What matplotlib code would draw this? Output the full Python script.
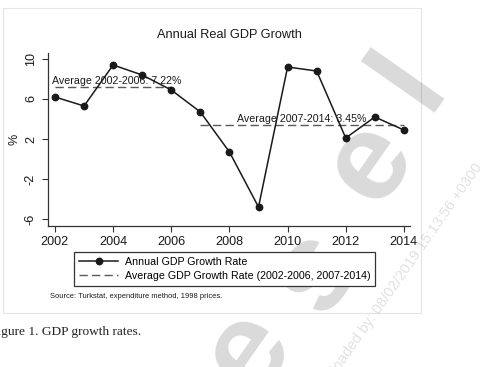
import matplotlib
matplotlib.use("Agg")
import matplotlib.pyplot as plt
from matplotlib.patches import Rectangle

plt.rcParams['font.family'] = ['Liberation Sans', 'DejaVu Sans']

# Annual real GDP growth (%), Turkstat, 1998 prices
years = [2002, 2003, 2004, 2005, 2006, 2007, 2008, 2009, 2010, 2011, 2012, 2013, 2014]
growth = [6.2, 5.3, 9.4, 8.4, 6.9, 4.7, 0.7, -4.8, 9.2, 8.8, 2.1, 4.2, 2.9]

avg_periods = [(2002, 2006), (2007, 2014)]
avg_values = [7.22, 3.45]
avg_labels = ["Average 2002-2006: 7.22%", "Average 2007-2014: 3.45%"]
avg_label_x = [2001.9, 2008.25]

x_ticks = [2002, 2004, 2006, 2008, 2010, 2012, 2014]
y_ticks = [-6, -2, 2, 6, 10]

W, H = 487, 367
fig = plt.figure(figsize=(W / 100, H / 100), dpi=100)
fig.patch.set_facecolor('white')

def px(x, y):
    return x / W, 1 - y / H

# outer graph frame
fig.patches.append(Rectangle(px(3, 313), 418 / W, 305 / H, transform=fig.transFigure,
                             fill=False, edgecolor='#e4e4e4', linewidth=0.8))

ax = fig.add_axes([48 / W, 1 - 226 / H, (410 - 48) / W, (226 - 53) / H])
ax.plot(years, growth, color='#1a1a1a', linewidth=1.1, marker='o', markersize=4.6,
        label='Annual GDP Growth Rate', zorder=3)

for i, ((x0, x1), v) in enumerate(zip(avg_periods, avg_values)):
    ax.plot([x0, x1], [v, v], color='#5a5a5a', linewidth=1.0, linestyle=(0, (6, 3)),
            label='Average GDP Growth Rate (2002-2006, 2007-2014)' if i == 0 else None, zorder=2)
    ax.text(avg_label_x[i], v + 0.3, avg_labels[i], fontsize=7.7, color='#1a1a1a',
            ha='left', va='baseline')

ax.set_xlim(2001.76, 2014.21)
ax.set_ylim(-6.7, 10.6)
ax.set_xticks(x_ticks)
ax.set_yticks(y_ticks)
ax.set_yticklabels([str(t) for t in y_ticks], rotation=90, va='center')
ax.tick_params(axis='both', direction='out', length=4, width=0.8, color='#333333',
               labelsize=9.1, labelcolor='#1a1a1a', pad=3)
ax.tick_params(axis='y', pad=4)
for s in ['top', 'right']:
    ax.spines[s].set_visible(False)
for s in ['left', 'bottom']:
    ax.spines[s].set_color('#333333')
    ax.spines[s].set_linewidth(0.9)
ax.set_ylabel('%', fontsize=9.1, labelpad=3, color='#1a1a1a')

fig.text(229 / W, 1 - 35 / H, 'Annual Real GDP Growth', fontsize=9.2, ha='center',
         va='center', color='#1a1a1a')

leg = fig.legend(loc='upper left', bbox_to_anchor=px(74, 252), fontsize=7.7,
                 frameon=True, fancybox=False, edgecolor='#333333', framealpha=1,
                 handlelength=3.7, handletextpad=0.6, labelspacing=0.4,
                 borderpad=0.45, borderaxespad=0)
leg.get_frame().set_linewidth(0.9)

fig.text(50 / W, 1 - 296 / H, 'Source: Turkstat, expenditure method, 1998 prices.',
         fontsize=5.4, ha='left', va='center', color='#1a1a1a')

# caption of the page (cut off at the left edge)
fig.text(-10.5 / W, 1 - 332 / H, 'Figure 1. GDP growth rates.', fontsize=9.6,
         family=['Liberation Serif', 'DejaVu Serif'], ha='left', va='center', color='#222222')

# page watermark
for ch, (cx, cy) in zip(['e', 's', 'e', 'l'], [(248, 352), (317, 272), (370, 163), (410, 80)]):
    fig.text(cx / W, 1 - cy / H, ch, fontsize=90, fontweight='bold', color='black',
             alpha=0.15, rotation=55, rotation_mode='anchor', ha='center', va='center')
fig.text(483 / W, 1 - 167 / H, 'Downloaded by: 08/02/2019 15:13:56 +0300', fontsize=10.5,
         color='black', alpha=0.12, rotation=55, rotation_mode='anchor',
         ha='right', va='baseline')

fig.savefig('out.png', dpi=100, facecolor='white')
